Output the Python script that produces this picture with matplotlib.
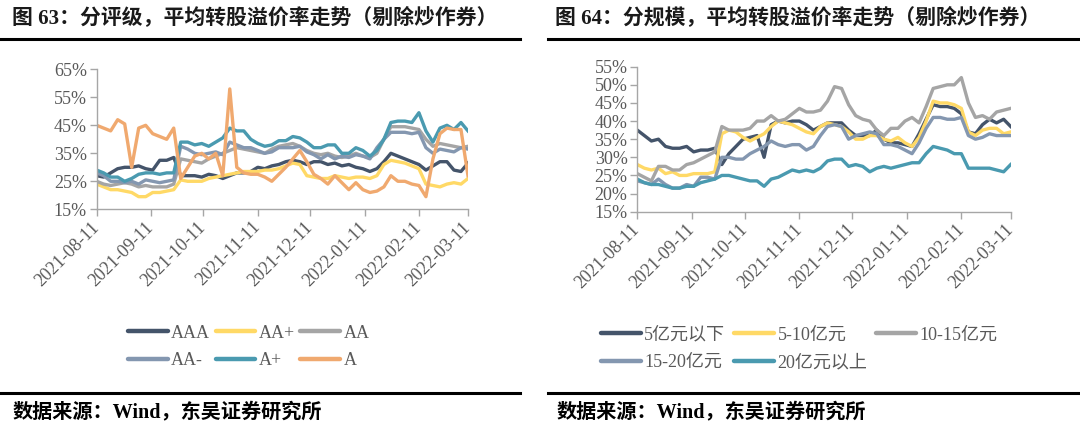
import numpy as np
import pandas as pd
import matplotlib
matplotlib.use('Agg')
import matplotlib.pyplot as plt
from matplotlib.lines import Line2D

# sample dates (every 4 days from 2021-08-11 to 2022-03-11)
dates = pd.date_range('2021-08-11', periods=54, freq='4D')
tick_labels = ['2021-08-11', '2021-09-11', '2021-10-11', '2021-11-11',
               '2021-12-11', '2022-01-11', '2022-02-11', '2022-03-11']

# left chart: by rating (%)
aaa = [27, 26.5, 28, 29.5, 30, 30, 30.5, 29.5, 29, 32.5, 32.5, 33.5, 27, 27, 27, 26.5, 27.5, 27,
       26, 27, 28, 28, 28.5, 30, 29.5, 30.5, 31, 32, 32.5, 32, 31, 32, 32, 31, 31.5, 30.5,
       31, 30, 29.5, 28.5, 29.5, 32, 35, 34, 33, 32, 31, 29, 30.5, 32, 32, 29, 28.5, 31.5]
aa_plus = [24, 23, 22, 22, 21.5, 21, 19.5, 19.5, 21, 21, 21.5, 22, 25.5, 25, 25, 25, 26, 26.5,
           27, 27.5, 28, 28.5, 28.5, 28.5, 29, 29, 29.5, 30.5, 31.5, 31, 27, 26.5, 26, 26, 27, 26.5,
           26, 26.5, 26.5, 26, 27, 31, 32.5, 32, 31.5, 30.5, 29.5, 24, 23.5, 23, 24, 24.5, 24, 26]
aa = [25, 24, 23.5, 24, 24.5, 24, 23, 23.5, 23, 23, 23, 24, 33, 32.5, 32, 31.5, 33, 34,
      35, 36, 37, 36.5, 36, 35.5, 35, 36.5, 37.5, 38, 38.5, 37.5, 36, 35, 34.5, 35, 34, 33.5,
      34, 35, 34, 33.5, 35, 40, 44.5, 44.5, 44.5, 44, 43.5, 40, 37.5, 38.5, 38, 37.5, 37, 37.5]
aa_minus = [28, 27, 25, 25, 24.5, 25, 24, 25.5, 25, 24.5, 25, 25.5, 37.5, 36.5, 35, 34.5, 35, 35.5,
            34.5, 39, 38, 37, 37, 36, 35, 35.5, 37, 37, 37, 37.5, 35.5, 34.5, 33, 34.5, 33, 34,
            33.5, 34.5, 34, 33, 37, 40, 42.5, 42.5, 42.5, 42, 42.5, 37, 35, 36.5, 36, 35.5, 37, 36.5]
a_plus = [29, 28, 26.5, 26.5, 25, 26, 27.5, 28, 28, 27.5, 28, 28, 39, 39, 38, 38.5, 37.5, 39,
          40.5, 44, 43, 43, 40, 38.5, 37.5, 38, 39.5, 39.5, 41, 40.5, 39, 37, 37, 38, 38, 35,
          35, 37, 36, 34, 36, 40, 46, 46.5, 46.5, 46, 49.5, 43, 39, 44, 45, 43.5, 46, 43]
a_rating = [45, 44, 43, 47, 45.5, 30, 44, 45, 42, 41, 40, 44, 26, 30, 34, 35, 33, 35,
            27, 58, 30, 28, 27.5, 27.5, 26.5, 25, 27.5, 30, 33, 36, 32, 27.5, 26, 24, 27, 24.5,
            22, 24.5, 22, 21, 21.5, 23, 27, 25, 25, 24, 23.5, 19.5, 33, 42, 44, 43.5, 43.5, 27]

# right chart: by issue size (%)
s_0_5 = [37.5, 36, 34.5, 35, 33, 32.5, 32.5, 33, 31.5, 32, 32, 32.5, 28, 31, 33, 35, 35.5, 36,
         30, 39, 40, 39.5, 40, 40, 39, 37.5, 38.5, 39.5, 39.5, 39.5, 37.5, 36, 36, 36, 37.5, 35,
         34, 34, 33.5, 33, 36.5, 40.5, 44.5, 44, 44, 43.5, 42, 37, 36.5, 39, 40.5, 39.5, 40.5, 38.5]
s_5_10 = [28, 27, 26.5, 27, 25.5, 26, 25, 25, 25.5, 25.5, 25.5, 26, 36.5, 37.5, 37, 35.5, 34.5, 35.5,
          36.5, 38.5, 40, 39.5, 39, 38, 37, 36.5, 38.5, 39.5, 39, 38.5, 37, 35, 35, 36, 36, 35,
          34.5, 35.5, 34, 33, 35.5, 40, 45.5, 45, 45, 44.5, 43.5, 37, 36, 37.5, 38, 38, 36.5, 37]
s_10_15 = [25.5, 24.5, 23.5, 27.5, 27.5, 26.5, 26.5, 28, 28.5, 29.5, 30.5, 31.5, 38.5, 37.5, 37.5, 37.5, 38, 40,
           40, 41.5, 40, 40.5, 42, 43.5, 42.5, 42.5, 43, 45.5, 49.5, 49, 44.5, 41.5, 40.5, 40, 37.5, 36,
           38, 38, 40, 41, 39.5, 44, 49, 49.5, 50, 50, 52, 45, 41, 41.5, 40.5, 42.5, 43, 43.5]
s_15_20 = [23.5, 23, 22.5, 24, 22.5, 21.5, 21.5, 22.5, 22, 24.5, 24.5, 24, 30, 30, 29.5, 29.5, 31, 32,
           33, 34.5, 33.5, 33, 33.5, 33.5, 32, 33, 36, 38.5, 39, 38.5, 35, 36, 36.5, 37, 36.5, 33.5,
           33.5, 33, 32, 31, 34, 38, 41, 41, 40.5, 40.5, 41, 36, 35, 35.5, 36.5, 36, 36, 36]
s_20_up = [24, 23, 22.5, 22.5, 22, 21.5, 21.5, 22, 22, 23, 23.5, 24, 25, 25, 24.5, 24, 23.5, 23.5,
           22, 24, 24.5, 25.5, 26.5, 26, 26.5, 26, 27, 29, 29.5, 29.5, 27.5, 28, 27.5, 26, 27, 27.5,
           27, 27.5, 28, 28.5, 28.5, 31, 33, 32.5, 32, 31, 31, 27, 27, 27, 27, 26.5, 26, 28]

left_names = ['AAA', 'AA+', 'AA', 'AA-', 'A+', 'A']
left_series = [aaa, aa_plus, aa, aa_minus, a_plus, a_rating]
right_names = ['5亿元以下', '5-10亿元', '10-15亿元', '15-20亿元', '20亿元以上']
right_series = [s_0_5, s_5_10, s_10_15, s_15_20, s_20_up]

left_colors = ['#44546A', '#FFD966', '#A5A5A5', '#8497B0', '#4A9AB0', '#F0A96F']
right_colors = ['#44546A', '#FFD966', '#A5A5A5', '#8497B0', '#4A9AB0']

# legend is filled column by column, so reorder to read row by row
left_order = [0, 3, 1, 4, 2, 5]
right_order = [0, 3, 1, 4, 2]

fam = ['Liberation Serif', 'Noto Sans CJK SC']

fig = plt.figure(figsize=(10.8, 4.3), dpi=100, facecolor='white')


def style_axis(ax, ymin, ymax, step):
  ax.set_xlim(pd.Timestamp(tick_labels[0]), pd.Timestamp(tick_labels[-1]))
  ax.set_ylim(ymin, ymax)
  ax.set_yticks(np.arange(ymin, ymax + 0.1, step))
  ax.set_yticklabels(['%d%%' % v for v in np.arange(ymin, ymax + 0.1, step)],
                     family=fam, fontsize=13, color='#595959')
  ax.set_xticks(pd.to_datetime(tick_labels))
  ax.set_xticklabels(tick_labels, rotation=45, ha='right', va='center',
                     rotation_mode='anchor', family=fam, fontsize=13, color='#595959')
  for s in ['top', 'right']:
    ax.spines[s].set_visible(False)
  for s in ['left', 'bottom']:
    ax.spines[s].set_color('#A6A6A6')
    ax.spines[s].set_linewidth(1.0)
  ax.tick_params(axis='both', direction='out', length=5, width=1.0, color='#A6A6A6')
  ax.tick_params(axis='x', pad=6)
  ax.tick_params(axis='y', pad=2)


def add_legend(ax, order, anchor, colsp):
  h, l = ax.get_legend_handles_labels()
  leg = fig.legend([h[i] for i in order], [l[i] for i in order], loc='upper left',
                   bbox_to_anchor=anchor, ncol=3, frameon=False,
                   borderpad=0, handlelength=2.2, handletextpad=0.2,
                   columnspacing=colsp, labelspacing=0.6,
                   prop={'family': fam, 'size': 13})
  for t in leg.get_texts():
    t.set_color('#595959')
  for line in leg.get_lines():
    line.set_linewidth(3.2)
    line.set_solid_capstyle('round')
  return leg


ax1 = fig.add_axes([0.0895, 0.5133, 0.3438, 0.3255])
for name, vals, c in zip(left_names, left_series, left_colors):
  ax1.plot(dates, vals, color=c, lw=2.4, label=name, solid_joinstyle='round')
style_axis(ax1, 15, 65, 10)

ax2 = fig.add_axes([0.5901, 0.5077, 0.3457, 0.3372])
for name, vals, c in zip(right_names, right_series, right_colors):
  ax2.plot(dates, vals, color=c, lw=2.4, label=name, solid_joinstyle='round')
style_axis(ax2, 15, 55, 5)

add_legend(ax1, left_order, (0.110, 0.266), 0.3)
add_legend(ax2, right_order, (0.548, 0.262), 0.5)

# titles, rules and source notes
fig.text(12 / 1080, 1 - 19 / 430, '图 63：分评级，平均转股溢价率走势（剔除炒作券）',
         family=fam, fontsize=15, fontweight='bold', color='#1A1A1A', va='center')
fig.text(555 / 1080, 1 - 19 / 430, '图 64：分规模，平均转股溢价率走势（剔除炒作券）',
         family=fam, fontsize=15, fontweight='bold', color='#1A1A1A', va='center')
for x0, x1 in [(0, 520), (548, 1080)]:
  fig.add_artist(Line2D([x0 / 1080, x1 / 1080], [1 - 39 / 430] * 2, color='black', lw=2.2))
  fig.add_artist(Line2D([x0 / 1080, x1 / 1080], [1 - 393 / 430] * 2, color='black', lw=2.2))
fig.text(13 / 1080, 1 - 412 / 430, '数据来源：Wind，东吴证券研究所',
         family=fam, fontsize=14.5, fontweight='bold', color='black', va='center')
fig.text(557 / 1080, 1 - 412 / 430, '数据来源：Wind，东吴证券研究所',
         family=fam, fontsize=14.5, fontweight='bold', color='black', va='center')

fig.savefig('out.png', dpi=100, facecolor='white')
